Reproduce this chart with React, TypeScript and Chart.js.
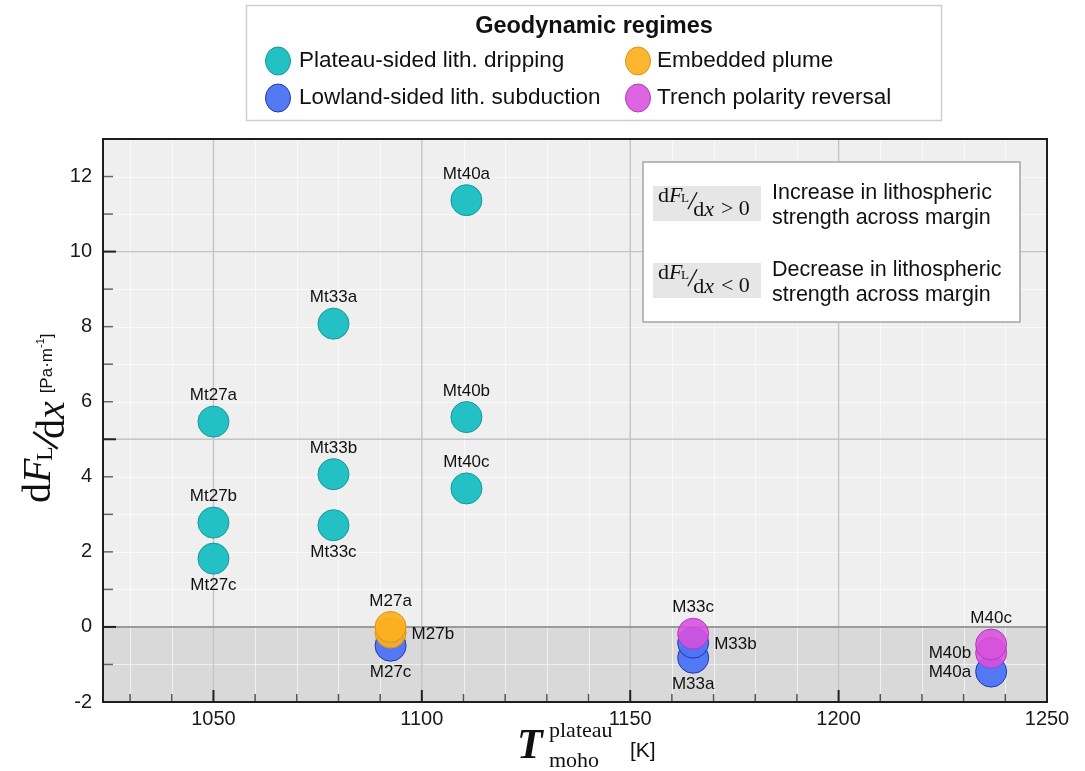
import { useEffect, useRef } from 'react';
import { Chart, registerables } from 'chart.js';

Chart.register(...registerables);

const SANS = '"Liberation Sans", Arial, Helvetica, sans-serif';
const SERIF = '"Liberation Serif", "Times New Roman", Times, serif';

// Axis ranges
const xMin = 1023.5;
const xMax = 1250;
const yMin = -2;
const yMax = 13;

// Legend
const legendTitle = 'Geodynamic regimes';
const regimeNames = [
  'Plateau-sided lith. dripping',
  'Lowland-sided lith. subduction',
  'Embedded plume',
  'Trench polarity reversal',
];

// Plateau-sided lithospheric dripping
const dripNames = ['Mt27a', 'Mt27b', 'Mt27c', 'Mt33a', 'Mt33b', 'Mt33c', 'Mt40a', 'Mt40b', 'Mt40c'];
const dripT = [1050, 1050, 1050, 1078.8, 1078.8, 1078.8, 1110.7, 1110.7, 1110.7];
const dripV = [5.47, 2.78, 1.82, 8.08, 4.07, 2.71, 11.37, 5.59, 3.69];
const dripSide = ['top', 'top', 'bottom', 'top', 'top', 'bottom', 'top', 'top', 'top'];

// Lowland-sided lithospheric subduction
const subNames = ['M27c', 'M33a', 'M33b', 'M40a'];
const subT = [1092.5, 1165.1, 1165.1, 1236.6];
const subV = [-0.5, -0.82, -0.42, -1.19];
const subSide = ['bottom', 'bottom', 'right', 'left'];

// Embedded plume
const plumeNames = ['M27b', 'M27a'];
const plumeT = [1092.5, 1092.5];
const plumeV = [-0.15, 0.0];
const plumeSide = ['right', 'top'];

// Trench polarity reversal
const revNames = ['M33c', 'M40b', 'M40c'];
const revT = [1165.1, 1236.6, 1236.6];
const revV = [-0.18, -0.69, -0.47];
const revSide = ['top', 'left', 'top'];

// Inset explanation
const insetSigns = ['>', '<'];
const insetLines = [
  ['Increase in lithospheric', 'strength across margin'],
  ['Decrease in lithospheric', 'strength across margin'],
];

const COLORS = {
  drip: { fill: 'rgba(27,190,194,0.96)', stroke: '#16989b' },
  sub: { fill: 'rgba(76,117,244,0.96)', stroke: '#2436b0' },
  plume: { fill: 'rgba(252,176,30,0.92)', stroke: '#d8921e' },
  rev: { fill: 'rgba(216,80,222,0.88)', stroke: '#b03bc0' },
};

function drawDFdx(ctx: CanvasRenderingContext2D, fs: number, denomDy: number): number {
  ctx.textAlign = 'left';
  ctx.textBaseline = 'alphabetic';
  let u = 0;
  ctx.font = `${fs}px ${SERIF}`;
  ctx.fillText('d', u, 0);
  u += ctx.measureText('d').width;
  ctx.font = `italic ${fs}px ${SERIF}`;
  ctx.fillText('F', u, 0);
  u += ctx.measureText('F').width - fs * 0.06;
  ctx.font = `${fs * 0.6}px ${SERIF}`;
  ctx.fillText('L', u, fs * 0.04);
  u += ctx.measureText('L').width;
  const sx = u - fs * 0.06;
  ctx.beginPath();
  ctx.lineWidth = Math.max(1.2, fs * 0.06);
  ctx.moveTo(sx, denomDy * 0.55);
  ctx.lineTo(sx + fs * 0.42, -fs * 0.42);
  ctx.stroke();
  let d = sx + fs * 0.24;
  ctx.font = `${fs}px ${SERIF}`;
  ctx.fillText('d', d, denomDy);
  d += ctx.measureText('d').width;
  ctx.font = `italic ${fs}px ${SERIF}`;
  ctx.fillText('x', d, denomDy);
  d += ctx.measureText('x').width;
  return d;
}

const decor = {
  id: 'decor',
  beforeDraw(chart: any) {
    const { ctx, chartArea, scales } = chart;
    const { left, right, top, bottom } = chartArea;
    const y0 = scales.y.getPixelForValue(0);
    ctx.save();
    ctx.fillStyle = '#ffffff';
    ctx.fillRect(0, 0, chart.width, chart.height);
    ctx.fillStyle = '#efefef';
    ctx.fillRect(left, top, right - left, y0 - top);
    ctx.fillStyle = '#d9d9d9';
    ctx.fillRect(left, y0, right - left, bottom - y0);
    ctx.restore();
  },
  beforeDatasetsDraw(chart: any) {
    const { ctx, chartArea, scales } = chart;
    const { left, right, top, bottom } = chartArea;
    const xs = scales.x;
    const ys = scales.y;
    ctx.save();
    // minor grid
    ctx.strokeStyle = 'rgba(255,255,255,0.6)';
    ctx.lineWidth = 1;
    for (let v = 1030; v < xMax; v += 10) {
      if (v % 50 === 0) continue;
      const px = Math.round(xs.getPixelForValue(v)) + 0.5;
      ctx.beginPath(); ctx.moveTo(px, top); ctx.lineTo(px, bottom); ctx.stroke();
    }
    for (let v = yMin + 1; v < yMax; v += 1) {
      if (v % 5 === 0) continue;
      const py = Math.round(ys.getPixelForValue(v)) + 0.5;
      ctx.beginPath(); ctx.moveTo(left, py); ctx.lineTo(right, py); ctx.stroke();
    }
    // major grid
    ctx.strokeStyle = '#c4c4c4';
    ctx.lineWidth = 1.4;
    for (let v = 1050; v < xMax; v += 50) {
      const px = xs.getPixelForValue(v);
      ctx.beginPath(); ctx.moveTo(px, top); ctx.lineTo(px, bottom); ctx.stroke();
    }
    for (let v = 5; v < yMax; v += 5) {
      const py = ys.getPixelForValue(v);
      ctx.beginPath(); ctx.moveTo(left, py); ctx.lineTo(right, py); ctx.stroke();
    }
    // zero line
    ctx.strokeStyle = '#9a9a9a';
    ctx.lineWidth = 2;
    const y0 = ys.getPixelForValue(0);
    ctx.beginPath(); ctx.moveTo(left, y0); ctx.lineTo(right, y0); ctx.stroke();
    // inward ticks
    for (let v = yMin + 1; v < yMax; v += 1) {
      const major = v % 5 === 0;
      const py = ys.getPixelForValue(v);
      ctx.strokeStyle = major ? '#222' : '#666';
      ctx.lineWidth = major ? 2 : 1.5;
      ctx.beginPath(); ctx.moveTo(left, py); ctx.lineTo(left + (major ? 13 : 10), py); ctx.stroke();
    }
    for (let v = 1030; v < xMax; v += 10) {
      const major = v % 50 === 0;
      const px = xs.getPixelForValue(v);
      ctx.strokeStyle = major ? '#222' : '#555';
      ctx.lineWidth = major ? 2 : 1.5;
      ctx.beginPath(); ctx.moveTo(px, bottom); ctx.lineTo(px, bottom - (major ? 12 : 8)); ctx.stroke();
    }
    ctx.restore();
  },
  afterDatasetsDraw(chart: any) {
    const { ctx, chartArea } = chart;
    const { left, right, top, bottom } = chartArea;
    ctx.save();
    ctx.fillStyle = '#111';
    ctx.font = `17px ${SANS}`;
    chart.data.datasets.forEach((ds: any, i: number) => {
      const meta = chart.getDatasetMeta(i);
      meta.data.forEach((el: any, j: number) => {
        const name = ds.names[j];
        const side = ds.sides[j];
        const px = el.x;
        const py = el.y;
        if (side === 'top') {
          ctx.textAlign = 'center'; ctx.textBaseline = 'middle';
          ctx.fillText(name, px, py - 26);
        } else if (side === 'bottom') {
          ctx.textAlign = 'center'; ctx.textBaseline = 'middle';
          ctx.fillText(name, px, py + 27);
        } else if (side === 'right') {
          ctx.textAlign = 'left'; ctx.textBaseline = 'middle';
          ctx.fillText(name, px + 21, py + 2);
        } else {
          ctx.textAlign = 'right'; ctx.textBaseline = 'middle';
          ctx.fillText(name, px - 20, py + 0.5);
        }
      });
    });
    // frame
    ctx.strokeStyle = '#1e1e1e';
    ctx.lineWidth = 2;
    ctx.strokeRect(left, top, right - left, bottom - top);
    ctx.restore();
  },
  afterDraw(chart: any) {
    const { ctx } = chart;
    ctx.save();
    // ---- Legend box ----
    ctx.fillStyle = '#fff';
    ctx.fillRect(246.5, 5.5, 695, 115);
    ctx.strokeStyle = '#cfcfcf';
    ctx.lineWidth = 1.5;
    ctx.strokeRect(246.5, 5.5, 695, 115);
    ctx.fillStyle = '#111';
    ctx.font = `bold 23.5px ${SANS}`;
    ctx.textAlign = 'center';
    ctx.textBaseline = 'middle';
    ctx.fillText(legendTitle, 594, 27);
    const legendCols = [[278, 299], [638, 657]];
    const legendRows = [61, 98];
    const legendColors = [COLORS.drip, COLORS.sub, COLORS.plume, COLORS.rev];
    regimeNames.forEach((name, i) => {
      const col = legendCols[i < 2 ? 0 : 1];
      const row = legendRows[i % 2];
      ctx.beginPath();
      ctx.ellipse(col[0], row, 12.5, 14, 0, 0, Math.PI * 2);
      ctx.fillStyle = legendColors[i].fill;
      ctx.fill();
      ctx.strokeStyle = legendColors[i].stroke;
      ctx.lineWidth = 1;
      ctx.stroke();
      ctx.fillStyle = '#111';
      ctx.font = `22.5px ${SANS}`;
      ctx.textAlign = 'left';
      ctx.textBaseline = 'middle';
      ctx.fillText(name, col[1], row);
    });

    // ---- Inset box ----
    ctx.fillStyle = '#fff';
    ctx.fillRect(643, 162, 377, 160);
    ctx.strokeStyle = '#a5a5a5';
    ctx.lineWidth = 1.5;
    ctx.strokeRect(643, 162, 377, 160);
    insetSigns.forEach((sign, i) => {
      const dy = i * 77;
      ctx.fillStyle = '#e6e6e6';
      ctx.fillRect(653, 186 + dy, 108, 35);
      ctx.fillStyle = '#111';
      ctx.strokeStyle = '#111';
      ctx.save();
      ctx.translate(658, 201.5 + dy);
      const end = drawDFdx(ctx, 22, 14);
      ctx.font = `22px ${SERIF}`;
      ctx.fillText(`${sign} 0`, end + 7, 13);
      ctx.restore();
      ctx.font = `21.5px ${SANS}`;
      ctx.textAlign = 'left';
      ctx.textBaseline = 'middle';
      ctx.fillText(insetLines[i][0], 772, 193.5 + dy);
      ctx.fillText(insetLines[i][1], 772, 218.5 + dy);
    });

    // ---- Y axis title ----
    ctx.fillStyle = '#111';
    ctx.strokeStyle = '#111';
    ctx.save();
    ctx.translate(50, 503);
    ctx.rotate(-Math.PI / 2);
    const fe = drawDFdx(ctx, 40, 14);
    ctx.font = `17px ${SANS}`;
    ctx.textAlign = 'left';
    ctx.textBaseline = 'alphabetic';
    let u = fe + 8;
    ctx.fillText('[Pa·m', u, 2);
    u += ctx.measureText('[Pa·m').width;
    ctx.font = `11px ${SANS}`;
    ctx.fillText('-1', u, -6);
    u += ctx.measureText('-1').width;
    ctx.font = `17px ${SANS}`;
    ctx.fillText(']', u, 2);
    ctx.restore();

    // ---- X axis title ----
    ctx.textAlign = 'left';
    ctx.textBaseline = 'alphabetic';
    ctx.font = `bold italic 42px ${SERIF}`;
    ctx.fillText('T', 517, 758);
    ctx.font = `22px ${SERIF}`;
    ctx.fillText('plateau', 549, 737);
    ctx.fillText('moho', 549, 767);
    ctx.font = `21px ${SANS}`;
    ctx.fillText('[K]', 630, 757);
    ctx.restore();
  },
};

export default function App() {
  const ref = useRef<HTMLCanvasElement>(null);
  useEffect(() => {
    const canvas = ref.current;
    if (!canvas) return;
    const mk = (names: string[], T: number[], V: number[], sides: string[], c: { fill: string; stroke: string }, label: string, order: number) => ({
      label,
      data: T.map((t, i) => ({ x: t, y: V[i] })),
      names,
      sides,
      backgroundColor: c.fill,
      borderColor: c.stroke,
      borderWidth: 1,
      pointRadius: 15.5,
      pointHoverRadius: 15.5,
      order,
    });
    const chart = new Chart(canvas, {
      type: 'scatter',
      data: {
        datasets: [
          mk(dripNames, dripT, dripV, dripSide, COLORS.drip, regimeNames[0], 3),
          mk(subNames, subT, subV, subSide, COLORS.sub, regimeNames[1], 2),
          mk(plumeNames, plumeT, plumeV, plumeSide, COLORS.plume, regimeNames[2], 1),
          mk(revNames, revT, revV, revSide, COLORS.rev, regimeNames[3], 0),
        ] as any,
      },
      options: {
        responsive: false,
        animation: false,
        devicePixelRatio: 1,
        layout: { padding: { top: 139, right: 38, left: 0, bottom: 0 } },
        plugins: { legend: { display: false }, tooltip: { enabled: false } },
        events: [],
        scales: {
          x: {
            type: 'linear',
            min: xMin,
            max: xMax,
            grid: { display: false, drawTicks: false },
            border: { display: false },
            afterFit: (s: any) => { s.height = 69; },
            ticks: {
              stepSize: 10,
              autoSkip: false,
              maxRotation: 0,
              padding: 5,
              color: '#1a1a1a',
              font: { family: SANS, size: 20 },
              callback: (v: any) => (Math.abs(v % 50) < 1e-6 ? String(v) : ''),
            },
          },
          y: {
            type: 'linear',
            min: yMin,
            max: yMax,
            grid: { display: false, drawTicks: false },
            border: { display: false },
            afterFit: (s: any) => { s.width = 103; },
            ticks: {
              stepSize: 1,
              autoSkip: false,
              padding: 11,
              color: '#1a1a1a',
              font: { family: SANS, size: 20 },
              callback: (v: any) => (Math.abs(v % 2) < 1e-6 ? String(v) : ''),
            },
          },
        },
      } as any,
      plugins: [decor],
    });
    return () => chart.destroy();
  }, []);
  return (
    <div style={{ position: 'absolute', left: 0, top: 0, width: 1085, height: 771, background: '#fff' }}>
      <canvas ref={ref} width={1085} height={771} style={{ display: 'block' }} />
    </div>
  );
}
